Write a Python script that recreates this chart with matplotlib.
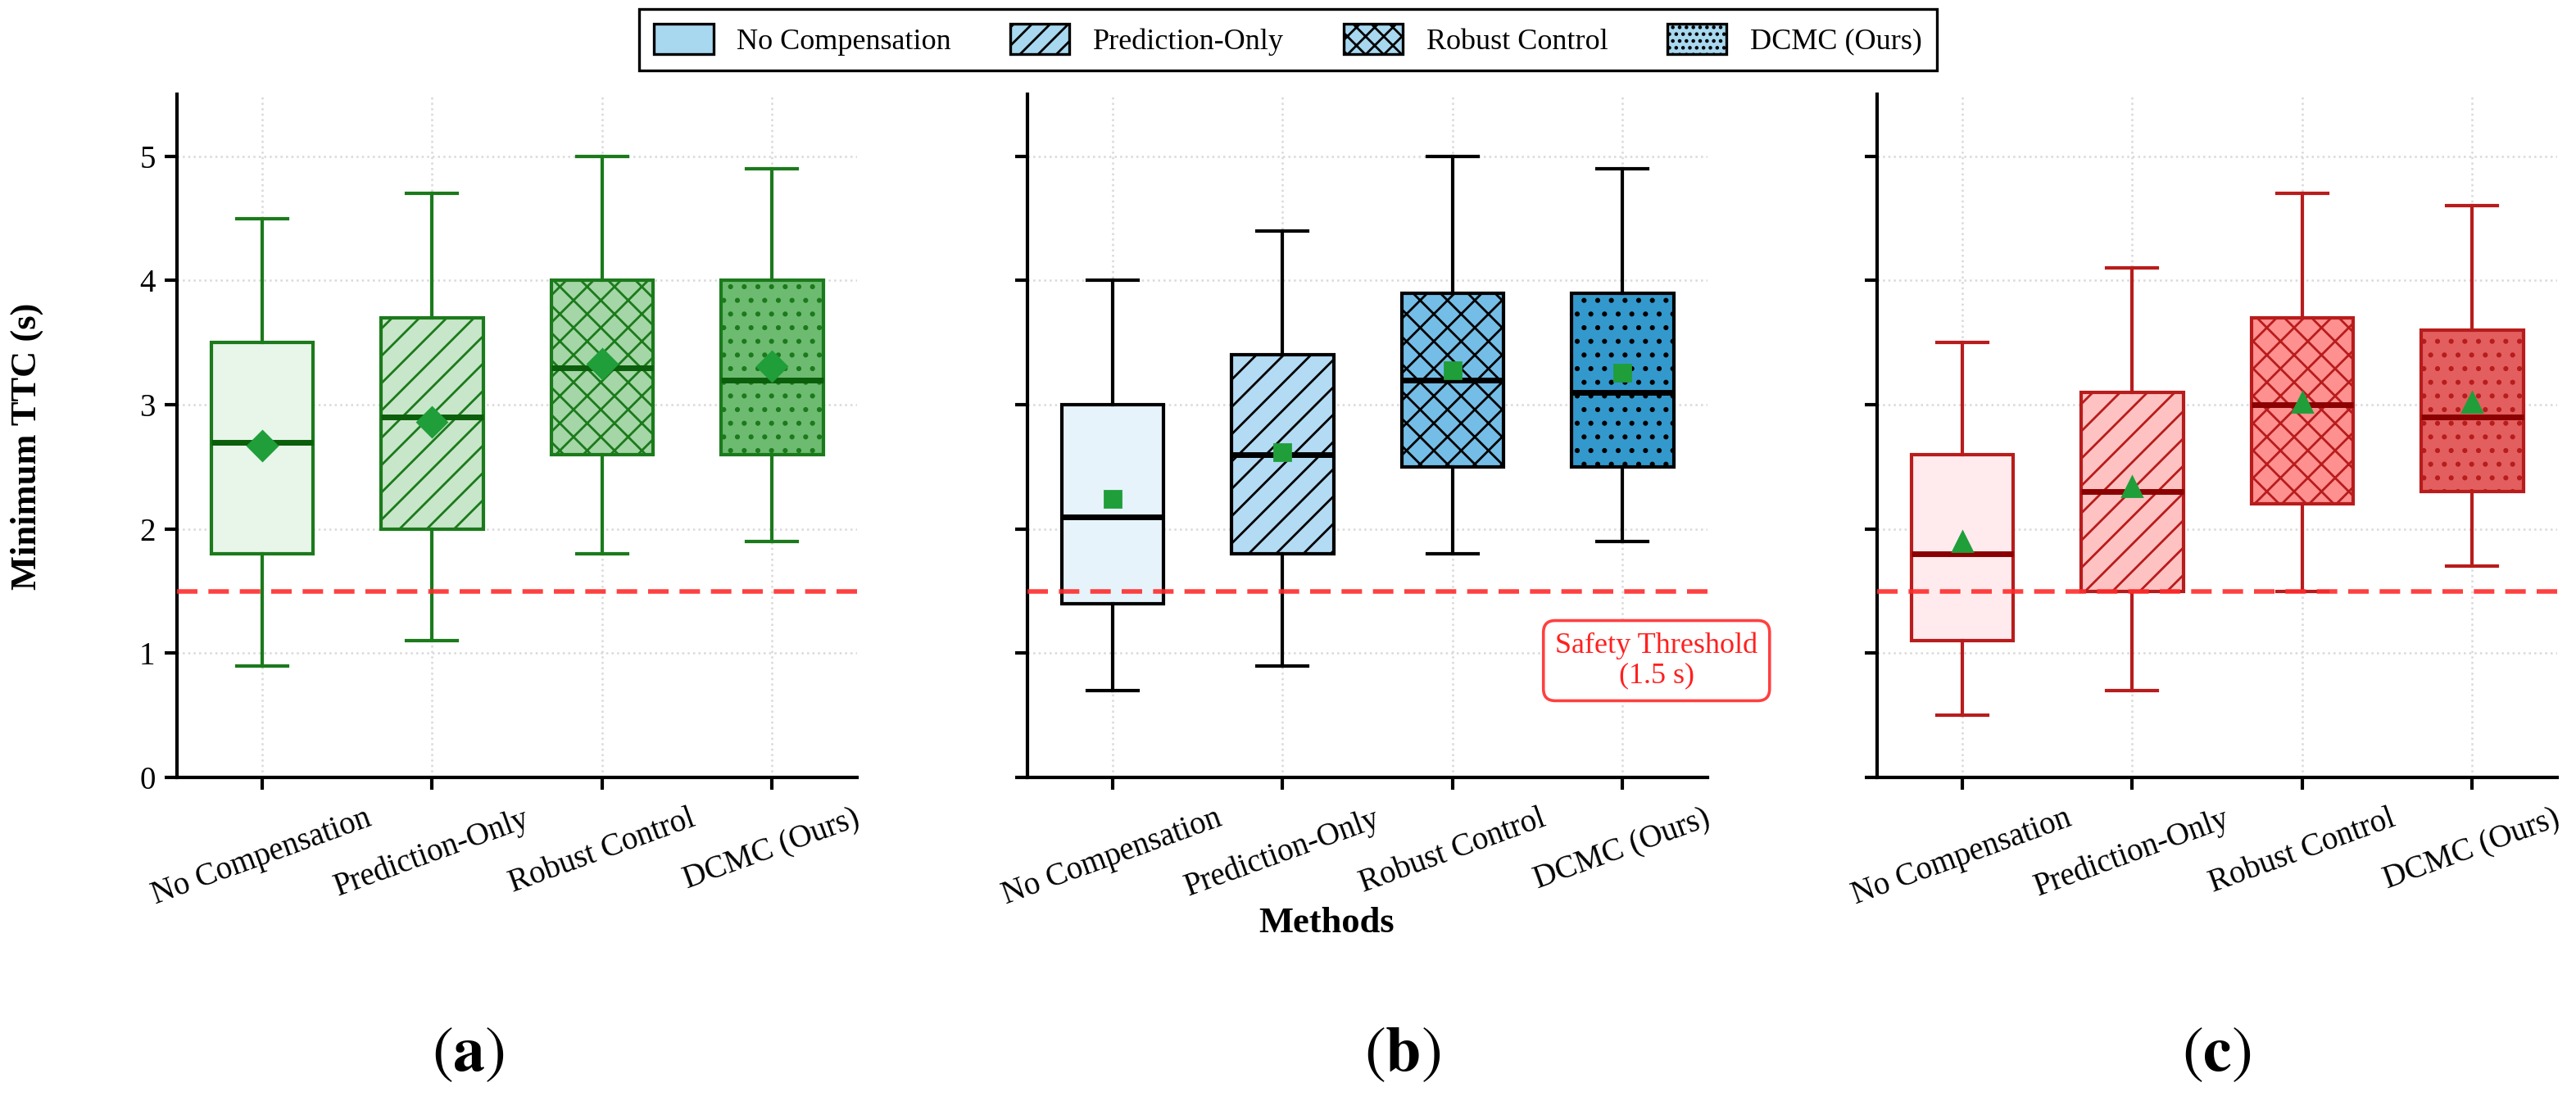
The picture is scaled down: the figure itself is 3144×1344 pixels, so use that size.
import matplotlib
matplotlib.use("Agg")
import matplotlib.pyplot as plt
from matplotlib.patches import Patch

plt.rcParams['font.family'] = ['Liberation Serif', 'DejaVu Serif']
plt.rcParams['mathtext.fontset'] = 'stix'
plt.rcParams['hatch.linewidth'] = 1.0

methods = ['No Compensation', 'Prediction-Only', 'Robust Control', 'DCMC (Ours)']
hatches = ['', '//', 'xx', '..']
legend_hatches = ['', '///', 'xxx', '....']
threshold = 1.5

# Panel (a)
a_lo = [0.9, 1.1, 1.8, 1.9]
a_q1 = [1.8, 2.0, 2.6, 2.6]
a_med = [2.7, 2.9, 3.3, 3.2]
a_q3 = [3.5, 3.7, 4.0, 4.0]
a_hi = [4.5, 4.7, 5.0, 4.9]
a_mean = [2.67, 2.86, 3.33, 3.31]
# Panel (b)
b_lo = [0.7, 0.9, 1.8, 1.9]
b_q1 = [1.4, 1.8, 2.5, 2.5]
b_med = [2.1, 2.6, 3.2, 3.1]
b_q3 = [3.0, 3.4, 3.9, 3.9]
b_hi = [4.0, 4.4, 5.0, 4.9]
b_mean = [2.24, 2.62, 3.28, 3.26]
# Panel (c)
c_lo = [0.5, 0.7, 1.5, 1.7]
c_q1 = [1.1, 1.5, 2.2, 2.3]
c_med = [1.8, 2.3, 3.0, 2.9]
c_q3 = [2.6, 3.1, 3.7, 3.6]
c_hi = [3.5, 4.1, 4.7, 4.6]
c_mean = [1.90, 2.34, 3.02, 3.02]

panels = [
    dict(lo=a_lo, q1=a_q1, med=a_med, q3=a_q3, hi=a_hi, mean=a_mean,
         edge='#1b7a1b', median='#0b5e0b', marker='D', msize=9,
         fills=['#e8f5e9', '#c8e6c9', '#a5d6a7', '#6dbb70']),
    dict(lo=b_lo, q1=b_q1, med=b_med, q3=b_q3, hi=b_hi, mean=b_mean,
         edge='#000000', median='#000000', marker='s', msize=7.5,
         fills=['#e6f3fb', '#b3dbf3', '#74bde6', '#3399cc']),
    dict(lo=c_lo, q1=c_q1, med=c_med, q3=c_q3, hi=c_hi, mean=c_mean,
         edge='#b81c1c', median='#8b0000', marker='^', msize=8.5,
         fills=['#ffebee', '#ffc2c2', '#ff9090', '#e35f5f']),
]

fig = plt.figure(figsize=(15.72, 6.72), dpi=200)
lefts = [216 / 3144, 1254 / 3144, 2291 / 3144]
bottom = 1 - 949 / 1344
height = (949 - 115) / 1344
width = 830 / 3144

mean_color = '#1f9e3a'
axes = []
for i, p in enumerate(panels):
    ax = fig.add_axes([lefts[i], bottom, width, height])
    axes.append(ax)
    stats = []
    for k in range(len(methods)):
        stats.append(dict(med=p['med'][k], q1=p['q1'][k], q3=p['q3'][k],
                          whislo=p['lo'][k], whishi=p['hi'][k],
                          mean=p['mean'][k], fliers=[], label=methods[k]))
    bp = ax.bxp(stats, positions=range(len(methods)), widths=0.6,
                patch_artist=True, showmeans=True, showfliers=False,
                boxprops=dict(linewidth=1.5, edgecolor=p['edge']),
                whiskerprops=dict(linewidth=1.5, color=p['edge']),
                capprops=dict(linewidth=1.5, color=p['edge']),
                medianprops=dict(linewidth=2.5, color=p['median']),
                meanprops=dict(marker=p['marker'], markerfacecolor=mean_color,
                               markeredgecolor=mean_color, markersize=p['msize']))
    for k, box in enumerate(bp['boxes']):
        box.set_facecolor(p['fills'][k])
        box.set_edgecolor(p['edge'])
        box.set_hatch(hatches[k])
    for m in bp['means']:
        m.set_zorder(4)
    ax.axhline(threshold, color='#ff2b2b', linestyle=(0, (4.5, 2.4)),
               linewidth=2.0, zorder=3.5, alpha=0.9)
    ax.set_xlim(-0.5, len(methods) - 0.5)
    ax.set_ylim(0, 5.5)
    ax.set_yticks([0, 1, 2, 3, 4, 5])
    ax.set_xticks(range(len(methods)))
    ax.set_xticklabels(methods, rotation=20, ha='center', fontsize=14)
    ax.grid(True, linestyle=':', color='#d9d9d9', linewidth=0.9)
    ax.set_axisbelow(True)
    for s in ['top', 'right']:
        ax.spines[s].set_visible(False)
    for s in ['left', 'bottom']:
        ax.spines[s].set_linewidth(1.5)
    ax.tick_params(axis='both', length=5.5, width=1.5)
    ax.tick_params(axis='y', labelsize=14, pad=4)
    ax.tick_params(axis='x', pad=6)
    if i > 0:
        ax.tick_params(axis='y', labelleft=False)

axes[1].text(3.2, 0.94, 'Safety Threshold\n(1.5 s)', color='#ff2020',
             fontsize=13, ha='center', va='center', linespacing=1.1,
             bbox=dict(boxstyle='round,pad=0.4', facecolor='white',
                       edgecolor='#ff4040', linewidth=1.3), zorder=6, clip_on=False)

fig.text(33 / 3144, 1 - 545 / 1344, 'Minimum TTC (s)', rotation=90,
         fontsize=16, fontweight='bold', ha='center', va='center')
fig.text(1619 / 3144, 1 - 1127 / 1344, 'Methods', fontsize=16,
         fontweight='bold', ha='center', va='center')

for lab, x in zip(['a', 'b', 'c'], [571, 1712, 2705]):
    fig.text(x / 3144, 1 - 1288 / 1344, r'$(\mathbf{' + lab + r'})$',
             fontsize=28, ha='center', va='center')

handles = [Patch(facecolor='#a8d8f0', edgecolor='black', hatch=h, linewidth=1.2,
                 label=m) for h, m in zip(legend_hatches, methods)]
leg = fig.legend(handles=handles, loc='upper center', bbox_to_anchor=(0.5, 0.992),
                 ncol=4, fontsize=13, frameon=True, fancybox=False,
                 edgecolor='black', framealpha=1, columnspacing=2.0,
                 handletextpad=0.8, handlelength=2.0, handleheight=1.2,
                 borderpad=0.5, borderaxespad=0)
leg.get_frame().set_linewidth(1.2)

fig.savefig('out.png', dpi=200)
